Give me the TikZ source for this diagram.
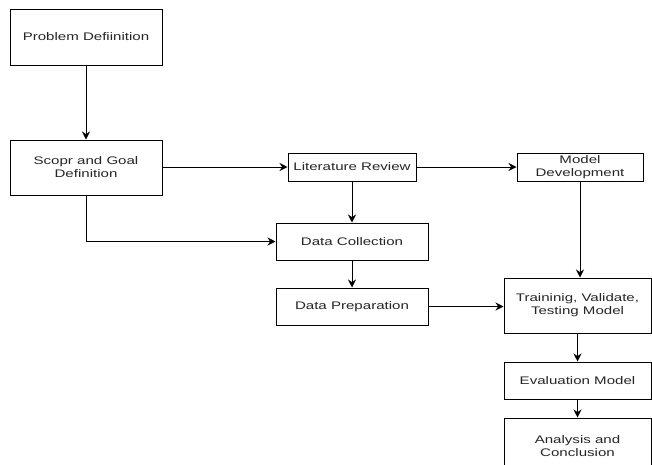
\documentclass[tikz,border=0pt]{standalone}
\usepackage{fontspec}
\setmainfont[FakeStretch=1.37]{Liberation Sans}
\usetikzlibrary{arrows.meta}
\begin{document}
\begin{tikzpicture}[x=1pt,y=-1pt,
  box/.style={draw=black, line width=1pt, fill=white, inner sep=0pt, align=center,
    font=\fontsize{11}{13}\selectfont, text=black!85},
  arr/.style={line width=1pt, -{Stealth[length=8pt,width=8pt]}}]
\useasboundingbox (0,0) rectangle (652,464);
\node[box, minimum width=152pt, minimum height=56pt] (prob) at (86,37) {Problem Defiinition};
\node[box, minimum width=152pt, minimum height=55pt] (scope) at (86,167.5) {Scopr and Goal\\Definition};
\node[box, minimum width=128pt, minimum height=28pt] (lit) at (352,167) {Literature Review};
\node[box, minimum width=126pt, minimum height=28pt] (model) at (580,167) {Model\\Development};
\node[box, minimum width=152pt, minimum height=37pt] (dc) at (352,241.5) {Data Collection};
\node[box, minimum width=152pt, minimum height=37pt] (dp) at (352,306.5) {Data Preparation};
\node[box, minimum width=147pt, minimum height=55pt] (train) at (577.5,305.5) {Traininig, Validate,\\Testing Model};
\node[box, minimum width=147pt, minimum height=37pt] (eval) at (577.5,380.5) {Evaluation Model};
\node[box, minimum width=147pt, minimum height=56pt] (anal) at (577.5,446) {Analysis and\\Conclusion};
\draw[arr] (prob) -- (scope);
\draw[arr] (scope.east |- lit.west) -- (lit.west);
\draw[arr] (lit) -- (model);
\draw[arr] (lit) -- (dc);
\draw[arr] (scope.south) |- (dc.west);
\draw[arr] (dc) -- (dp);
\draw[arr] (dp) -- (dp -| train.west);
\draw[arr] (model.south) -- (model.south |- train.north);
\draw[arr] (train.south -| eval.north) -- (eval.north);
\draw[arr] (eval) -- (anal);
\end{tikzpicture}
\end{document}
